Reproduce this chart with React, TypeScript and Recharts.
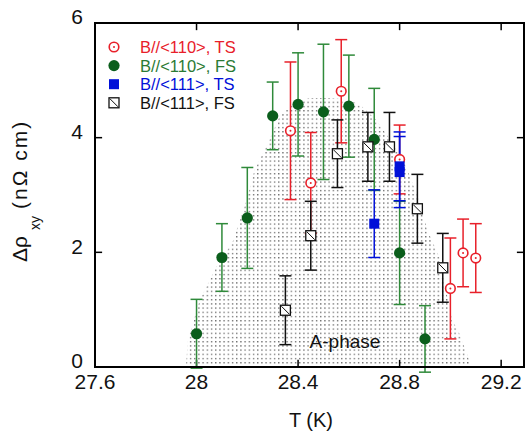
import React from 'react';
import { ComposedChart, Area, Scatter, ErrorBar, XAxis, YAxis, ReferenceLine, ReferenceArea } from 'recharts';

// axis setup
const X_TICKS = [27.6, 28, 28.4, 28.8, 29.2];
const Y_TICKS = [0, 2, 4, 6];
const X_MIN = 27.6;
const X_MAX = 29.29;

// A-phase outline (T, v)
const aPhase = [
  { T: 27.958, v: 0 },
  { T: 27.966, v: 0.47 },
  { T: 28.013, v: 1.17 },
  { T: 28.076, v: 1.73 },
  { T: 28.142, v: 2.18 },
  { T: 28.197, v: 2.91 },
  { T: 28.229, v: 3.44 },
  { T: 28.276, v: 3.85 },
  { T: 28.327, v: 4.36 },
  { T: 28.378, v: 4.6 },
  { T: 28.445, v: 4.69 },
  { T: 28.524, v: 4.69 },
  { T: 28.602, v: 4.66 },
  { T: 28.65, v: 4.55 },
  { T: 28.708, v: 4.31 },
  { T: 28.771, v: 3.91 },
  { T: 28.826, v: 3.49 },
  { T: 28.877, v: 2.91 },
  { T: 28.909, v: 2.39 },
  { T: 28.956, v: 1.92 },
  { T: 29.007, v: 0.82 },
  { T: 29.035, v: 0.59 },
  { T: 29.074, v: 0.12 },
  { T: 29.082, v: 0 },
];

const redTS = [
  { T: 28.37, v: 4.12, e: 1.2 },
  { T: 28.45, v: 3.21, e: 0.88 },
  { T: 28.57, v: 4.81, e: 0.9 },
  { T: 28.8, v: 3.62, e: 0.6 },
  { T: 29.0, v: 1.37, e: 0.88 },
  { T: 29.05, v: 1.99, e: 0.59 },
  { T: 29.1, v: 1.9, e: 0.6 },
];

const greenFS = [
  { T: 28.0, v: 0.58, e: 0.6 },
  { T: 28.1, v: 1.91, e: 0.59 },
  { T: 28.2, v: 2.6, e: 0.88 },
  { T: 28.3, v: 4.38, e: 0.59 },
  { T: 28.4, v: 4.58, e: 0.9 },
  { T: 28.5, v: 4.45, e: 1.18 },
  { T: 28.6, v: 4.55, e: 0.89 },
  { T: 28.7, v: 3.97, e: 0.89 },
  { T: 28.8, v: 1.99, e: 0.9 },
  { T: 28.9, v: 0.49, e: 0.58 },
];

const blueTS = [
  { T: 28.7, v: 2.5, e: 0.59 },
  { T: 28.8, v: 3.5, e: 0.6 },
  { T: 28.8, v: 3.4, e: 0.62 },
];

const blackFS = [
  { T: 28.35, v: 0.99, e: 0.6 },
  { T: 28.45, v: 2.29, e: 0.6 },
  { T: 28.555, v: 3.72, e: 0.59 },
  { T: 28.675, v: 3.84, e: 0.6 },
  { T: 28.76, v: 3.84, e: 0.6 },
  { T: 28.87, v: 2.76, e: 0.6 },
  { T: 28.97, v: 1.73, e: 0.6 },
];

const RED = '#e8202a';
const GREEN = '#0b5e1c';
const GREEN_BAR = '#2f8a3a';
const BLUE = '#0010d8';
const BLACK = '#111';
const FONT = '"Liberation Sans", Arial, Helvetica, sans-serif';

const RedCircle = (p: any) => (
  <g>
    <circle cx={p.cx} cy={p.cy} r={4.8} fill="#fff" stroke={RED} strokeWidth={1.6} />
    <circle cx={p.cx} cy={p.cy} r={1} fill={RED} />
  </g>
);

const GreenDot = (p: any) => <circle cx={p.cx} cy={p.cy} r={5.6} fill={GREEN} />;

const BlueSquare = (p: any) => <rect x={p.cx - 5} y={p.cy - 5} width={10} height={10} fill={BLUE} />;

const SlashSquare = (p: any) => (
  <g>
    <rect x={p.cx - 5} y={p.cy - 5} width={10} height={10} fill="#fff" stroke={BLACK} strokeWidth={1.3} />
    <line x1={p.cx - 4} y1={p.cy - 4} x2={p.cx + 4} y2={p.cy + 4} stroke={BLACK} strokeWidth={1} />
  </g>
);

const legendRows = [
  { label: 'B//<110>, TS', color: RED, Icon: RedCircle },
  { label: 'B//<110>, FS', color: '#2a7a34', Icon: GreenDot },
  { label: 'B//<111>, TS', color: BLUE, Icon: BlueSquare },
  { label: 'B//<111>, FS', color: BLACK, Icon: SlashSquare },
];

export default function App() {
  const tickX = 0.028;
  const tickY = 0.125;
  return (
    <div style={{ position: 'absolute', left: 0, top: 0, width: 526, height: 434, background: '#fff', fontFamily: FONT }}>
      <svg width={0} height={0} style={{ position: 'absolute' }}>
        <defs>
          <pattern id="dots" width={4.2} height={4.2} patternUnits="userSpaceOnUse">
            <rect x={1} y={1} width={1.1} height={1.1} fill="#222" />
          </pattern>
        </defs>
      </svg>
      <ComposedChart width={526} height={434} data={aPhase} margin={{ top: 23, right: 2, bottom: 37, left: 35 }}>
        <XAxis
          type="number"
          dataKey="T"
          domain={[X_MIN, X_MAX]}
          ticks={X_TICKS}
          tickFormatter={(t: number) => String(t)}
          allowDataOverflow
          tickLine={false}
          tickMargin={1}
          height={30}
          axisLine={{ stroke: '#000', strokeWidth: 2 }}
          tick={{ fill: '#111', fontSize: 21, fontFamily: FONT }}
        />
        <YAxis
          type="number"
          dataKey="v"
          domain={[0, 6]}
          ticks={Y_TICKS}
          allowDataOverflow
          tickLine={false}
          tickMargin={6}
          width={60}
          axisLine={{ stroke: '#000', strokeWidth: 2 }}
          tick={{ fill: '#111', fontSize: 21, fontFamily: FONT, dy: -6 }}
        />
        <Area dataKey="v" type="linear" fill="url(#dots)" fillOpacity={1} stroke="none" isAnimationActive={false} dot={false} activeDot={false} />
        <ReferenceArea x1={X_MIN} x2={X_MAX} y1={0} y2={6} fill="none" stroke="#000" strokeWidth={2} ifOverflow="visible" />
        {X_TICKS.slice(1).map((t) => (
          <ReferenceLine key={`xb${t}`} segment={[{ x: t, y: 0 }, { x: t, y: tickY }]} stroke="#000" strokeWidth={1.5} ifOverflow="visible" />
        ))}
        {X_TICKS.slice(1).map((t) => (
          <ReferenceLine key={`xt${t}`} segment={[{ x: t, y: 6 }, { x: t, y: 6 - tickY }]} stroke="#000" strokeWidth={1.5} ifOverflow="visible" />
        ))}
        {Y_TICKS.slice(1, -1).map((t) => (
          <ReferenceLine key={`yl${t}`} segment={[{ x: X_MIN, y: t }, { x: X_MIN + tickX, y: t }]} stroke="#000" strokeWidth={1.5} ifOverflow="visible" />
        ))}
        {Y_TICKS.slice(1, -1).map((t) => (
          <ReferenceLine key={`yr${t}`} segment={[{ x: X_MAX, y: t }, { x: X_MAX - tickX, y: t }]} stroke="#000" strokeWidth={1.5} ifOverflow="visible" />
        ))}
        <Scatter data={redTS} dataKey="v" shape={RedCircle} isAnimationActive={false}>
          <ErrorBar dataKey="e" direction="y" width={6} stroke={RED} strokeWidth={1.5} />
        </Scatter>
        <Scatter data={greenFS} dataKey="v" shape={GreenDot} isAnimationActive={false}>
          <ErrorBar dataKey="e" direction="y" width={6} stroke={GREEN_BAR} strokeWidth={1.5} />
        </Scatter>
        <Scatter data={blueTS} dataKey="v" shape={BlueSquare} isAnimationActive={false}>
          <ErrorBar dataKey="e" direction="y" width={6} stroke={BLUE} strokeWidth={1.5} />
        </Scatter>
        <Scatter data={blackFS} dataKey="v" shape={SlashSquare} isAnimationActive={false}>
          <ErrorBar dataKey="e" direction="y" width={6} stroke={BLACK} strokeWidth={1.5} />
        </Scatter>
      </ComposedChart>
      <svg width={526} height={434} style={{ position: 'absolute', left: 0, top: 0, pointerEvents: 'none' }} fontFamily={FONT}>
        {legendRows.map((r, i) => (
          <g key={r.label}>
            <r.Icon cx={114} cy={47 + i * 18.6} />
            <text x={140} y={53 + i * 18.6} fontSize={16.5} fill={r.color}>{r.label}</text>
          </g>
        ))}
        <text x={345} y={348} fontSize={19} textAnchor="middle" fill="#111">A-phase</text>
        <text x={311} y={427} fontSize={20} textAnchor="middle" fill="#111">T (K)</text>
        <text transform="translate(27,262) rotate(-90)" fontSize={21} fill="#111">
          <tspan>Δρ</tspan>
          <tspan dx={6} dy={12.5} fontSize={14}>xy</tspan>
          <tspan dx={7} dy={-12.5} letterSpacing={2}>(nΩ cm)</tspan>
        </text>
      </svg>
    </div>
  );
}
